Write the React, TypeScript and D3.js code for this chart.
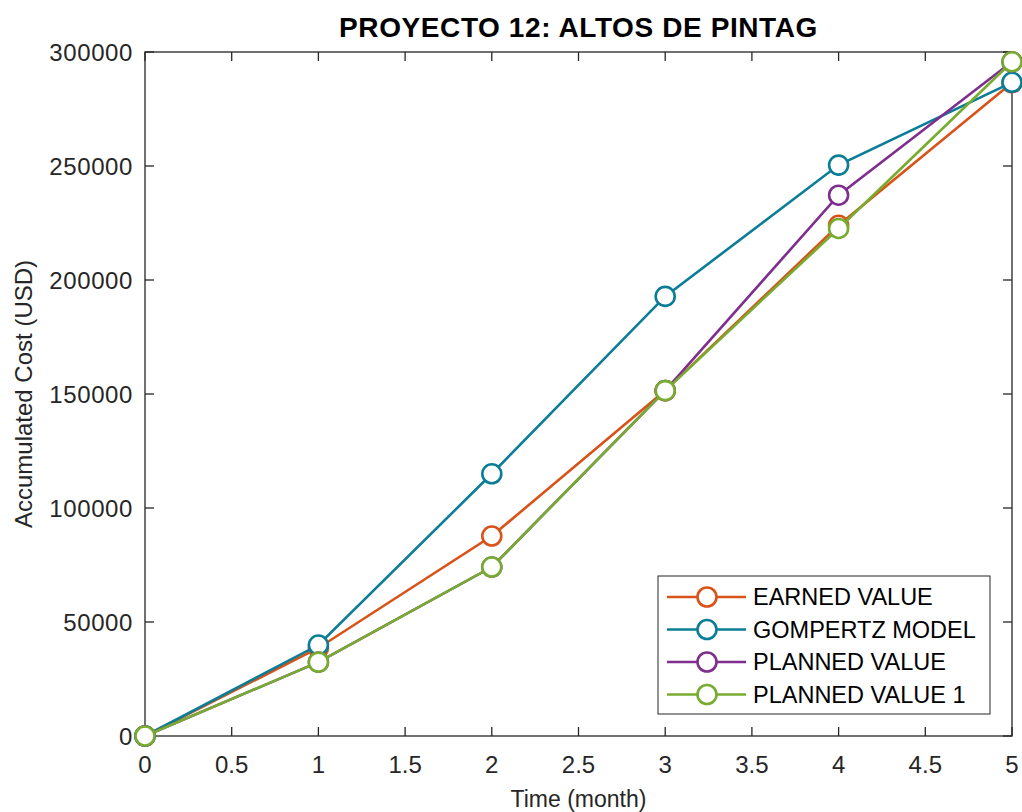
import React from "react";
import * as d3 from "d3";

const months = [0, 1, 2, 3, 4, 5];
const earnedValue = [0, 38600, 87700, 151500, 224000, 286500];
const gompertzModel = [0, 39900, 115000, 192800, 250400, 286700];
const plannedValue = [0, 32400, 74100, 151500, 237200, 295700];
const plannedValue1 = [0, 32400, 74100, 151500, 222600, 295700];
const seriesNames = ["EARNED VALUE", "GOMPERTZ MODEL", "PLANNED VALUE", "PLANNED VALUE 1"];
const seriesColors = ["#D95319", "#0C7D96", "#7E2F8E", "#77AC30"];
const xTicks = [0, 0.5, 1, 1.5, 2, 2.5, 3, 3.5, 4, 4.5, 5];
const yTicks = [0, 50000, 100000, 150000, 200000, 250000, 300000];
const title = "PROYECTO 12: ALTOS DE PINTAG";
const xLabel = "Time (month)";
const yLabel = "Accumulated Cost (USD)";

export default function App() {
  const W = 1022, H = 812;
  const left = 145, right = 1012, top = 52, bottom = 736;
  const x = d3.scaleLinear().domain([0, 5]).range([left, right]);
  const y = d3.scaleLinear().domain([0, 300000]).range([bottom, top]);
  const series = [earnedValue, gompertzModel, plannedValue, plannedValue1];
  const line = d3.line<number>().x((_, i) => x(months[i])).y((d) => y(d));
  const font = "'Liberation Sans', Arial, sans-serif";
  const ax = "#262626";
  const tickLen = 9;
  const lg = { x: 658, y: 576, w: 332, h: 138 };
  return (
    <svg width={W} height={H} style={{ position: "absolute", left: 0, top: 0, background: "#fff" }} fontFamily={font}>
      <rect x={0} y={0} width={W} height={H} fill="#fff" />
      {xTicks.map((t) => (
        <g key={"xt" + t}>
          <line x1={x(t)} x2={x(t)} y1={bottom} y2={bottom - tickLen} stroke={ax} strokeWidth={1.3} />
          <line x1={x(t)} x2={x(t)} y1={top} y2={top + tickLen} stroke={ax} strokeWidth={1.3} />
          <text x={x(t)} y={bottom + 37} textAnchor="middle" fontSize={24} fill={ax}>{String(t)}</text>
        </g>
      ))}
      {yTicks.map((t) => (
        <g key={"yt" + t}>
          <line x1={left} x2={left + tickLen} y1={y(t)} y2={y(t)} stroke={ax} strokeWidth={1.3} />
          <line x1={right} x2={right - tickLen} y1={y(t)} y2={y(t)} stroke={ax} strokeWidth={1.3} />
          <text x={left - 12} y={y(t)} dy="0.36em" textAnchor="end" fontSize={24} letterSpacing={0.6} fill={ax}>{String(t)}</text>
        </g>
      ))}
      <rect x={left} y={top} width={right - left} height={bottom - top} fill="none" stroke={ax} strokeWidth={1.3} />
      {series.map((s, k) => (
        <g key={"s" + k}>
          <path d={line(s) || ""} fill="none" stroke={seriesColors[k]} strokeWidth={2.6} />
          {s.map((v, i) => (
            <circle key={i} cx={x(months[i])} cy={y(v)} r={9.5} fill="#fff" stroke={seriesColors[k]} strokeWidth={2.6} />
          ))}
        </g>
      ))}
      <text x={(left + right) / 2} y={37} textAnchor="middle" fontSize={28} fontWeight="bold" letterSpacing={0.6} fill="#000">{title}</text>
      <text x={(left + right) / 2} y={807} textAnchor="middle" fontSize={23} fill={ax}>{xLabel}</text>
      <text transform={`translate(32, ${(top + bottom) / 2}) rotate(-90)`} textAnchor="middle" fontSize={24} fill={ax}>{yLabel}</text>
      <rect x={lg.x} y={lg.y} width={lg.w} height={lg.h} fill="#fff" stroke={ax} strokeWidth={1} />
      {seriesNames.map((n, k) => {
        const ry = lg.y + 21 + k * 32.5;
        return (
          <g key={"lg" + k}>
            <line x1={667} x2={746} y1={ry} y2={ry} stroke={seriesColors[k]} strokeWidth={2.6} />
            <circle cx={707} cy={ry} r={9.5} fill="#fff" stroke={seriesColors[k]} strokeWidth={2.6} />
            <text x={753} y={ry} dy="0.36em" fontSize={23.5} fill="#000">{n}</text>
          </g>
        );
      })}
    </svg>
  );
}
